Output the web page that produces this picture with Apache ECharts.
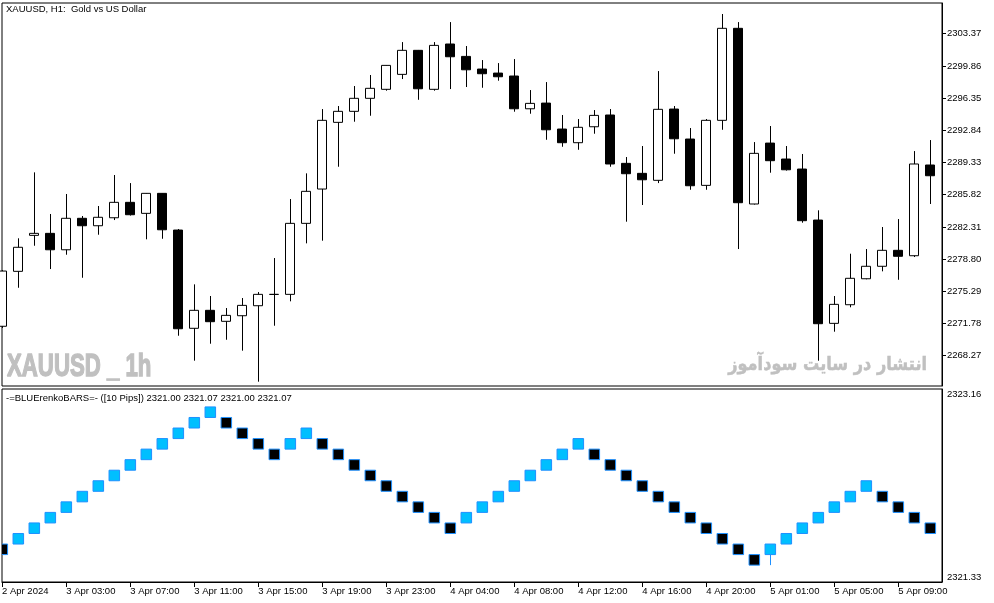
<!DOCTYPE html>
<html>
<head>
<meta charset="utf-8">
<script src="https://cdn.jsdelivr.net/npm/echarts@6/dist/echarts.min.js"></script>
<style>
html,body{margin:0;padding:0;background:#fff;}
#chart{width:994px;height:603px;}
</style>
</head>
<body>
<div id="chart"></div>
<script>
// ---------- DATA ----------
const priceTicks = [2268.27, 2271.78, 2275.29, 2278.80, 2282.31, 2285.82, 2289.33, 2292.84, 2296.35, 2299.86, 2303.37];
const renkoTicks = [2321.33, 2323.16];

const timeTicks = [4, 8, 12, 16, 20, 24, 28, 32, 36, 40, 44, 48, 52, 56];
const timeLabels = ['3 Apr 03:00', '3 Apr 07:00', '3 Apr 11:00', '3 Apr 15:00', '3 Apr 19:00', '3 Apr 23:00',
  '4 Apr 04:00', '4 Apr 08:00', '4 Apr 12:00', '4 Apr 16:00', '4 Apr 20:00', '5 Apr 01:00', '5 Apr 05:00', '5 Apr 09:00'];
const startLabel = '2 Apr 2024';

const candleOpen = [2271.48, 2277.47, 2281.39, 2281.61, 2279.82, 2283.25, 2282.44, 2283.31, 2284.99, 2283.79,
  2285.97, 2281.97, 2271.26, 2273.22, 2272.02, 2272.63, 2273.72, 2274.95, 2274.96, 2282.70,
  2286.44, 2293.71, 2294.91, 2296.33, 2297.31, 2298.94, 2301.56, 2297.31, 2302.25, 2300.90,
  2299.52, 2299.08, 2298.76, 2295.19, 2295.81, 2292.98, 2291.49, 2293.23, 2294.51, 2289.24,
  2288.15, 2287.39, 2295.16, 2291.89, 2286.84, 2293.93, 2303.96, 2284.81, 2291.45, 2289.71,
  2288.62, 2283.06, 2271.80, 2273.83, 2276.66, 2278.02, 2279.76, 2279.17, 2289.06];
const candleClose = [2277.50, 2280.09, 2281.61, 2279.82, 2283.25, 2282.44, 2283.36, 2284.99, 2283.64, 2285.97,
  2282.00, 2271.21, 2273.22, 2271.98, 2272.67, 2273.76, 2274.96, 2274.96, 2282.70, 2286.19,
  2293.93, 2294.91, 2296.33, 2297.42, 2299.92, 2301.56, 2297.37, 2302.10, 2300.86, 2299.44,
  2299.01, 2298.68, 2295.19, 2295.78, 2292.90, 2291.49, 2293.17, 2294.47, 2289.17, 2288.11,
  2287.45, 2295.13, 2291.92, 2286.80, 2293.93, 2303.96, 2284.95, 2290.33, 2289.53, 2288.54,
  2282.99, 2271.76, 2273.87, 2276.71, 2278.02, 2279.76, 2279.11, 2289.17, 2287.89];
const candleLow = [2271.30, 2275.68, 2280.26, 2277.72, 2279.28, 2276.77, 2281.46, 2283.06, 2283.55, 2280.96,
  2281.02, 2270.45, 2267.73, 2269.58, 2270.01, 2268.82, 2265.44, 2271.54, 2274.20, 2280.52,
  2280.81, 2288.87, 2293.78, 2294.43, 2297.16, 2298.43, 2296.17, 2297.16, 2297.34, 2297.56,
  2297.48, 2298.25, 2294.87, 2294.65, 2291.81, 2291.05, 2290.72, 2292.47, 2288.87, 2282.88,
  2284.70, 2287.09, 2290.29, 2286.36, 2286.36, 2292.90, 2279.90, 2284.75, 2288.22, 2288.45,
  2282.77, 2267.73, 2270.89, 2273.55, 2276.60, 2277.47, 2276.55, 2279.03, 2284.81];
const candleHigh = [2277.60, 2281.07, 2288.26, 2283.72, 2285.90, 2283.50, 2284.59, 2287.97, 2287.09, 2286.00,
  2286.00, 2282.08, 2276.05, 2274.78, 2273.47, 2274.56, 2275.21, 2278.92, 2285.35, 2288.15,
  2295.16, 2295.49, 2297.67, 2298.87, 2299.95, 2302.46, 2301.60, 2302.46, 2304.64, 2302.03,
  2300.50, 2300.17, 2300.61, 2297.23, 2298.10, 2294.51, 2294.07, 2295.05, 2295.16, 2289.93,
  2291.13, 2299.30, 2295.49, 2293.09, 2294.07, 2305.52, 2304.64, 2291.56, 2293.31, 2291.13,
  2290.26, 2284.12, 2274.78, 2279.39, 2279.90, 2282.30, 2283.17, 2290.58, 2291.78];

const renkoOpen = [2321.69, 2321.69, 2321.79, 2321.89, 2321.99, 2322.09, 2322.19, 2322.29, 2322.39, 2322.49,
  2322.59, 2322.69, 2322.79, 2322.89, 2322.89, 2322.79, 2322.69, 2322.59, 2322.59, 2322.69,
  2322.69, 2322.59, 2322.49, 2322.39, 2322.29, 2322.19, 2322.09, 2321.99, 2321.89, 2321.89,
  2321.99, 2322.09, 2322.19, 2322.29, 2322.39, 2322.49, 2322.59, 2322.59, 2322.49, 2322.39,
  2322.29, 2322.19, 2322.09, 2321.99, 2321.89, 2321.79, 2321.69, 2321.59, 2321.59, 2321.69,
  2321.79, 2321.89, 2321.99, 2322.09, 2322.19, 2322.19, 2322.09, 2321.99, 2321.89];
const renkoClose = [2321.59, 2321.79, 2321.89, 2321.99, 2322.09, 2322.19, 2322.29, 2322.39, 2322.49, 2322.59,
  2322.69, 2322.79, 2322.89, 2322.99, 2322.79, 2322.69, 2322.59, 2322.49, 2322.69, 2322.79,
  2322.59, 2322.49, 2322.39, 2322.29, 2322.19, 2322.09, 2321.99, 2321.89, 2321.79, 2321.99,
  2322.09, 2322.19, 2322.29, 2322.39, 2322.49, 2322.59, 2322.69, 2322.49, 2322.39, 2322.29,
  2322.19, 2322.09, 2321.99, 2321.89, 2321.79, 2321.69, 2321.59, 2321.49, 2321.69, 2321.79,
  2321.89, 2321.99, 2322.09, 2322.19, 2322.29, 2322.09, 2321.99, 2321.89, 2321.79];
const renkoWickIndex = [48];
const renkoWickLow = [2321.49];

// ---------- CHART ----------
const FONT = 'Liberation Sans';
const X_MIN = -0.02, X_MAX = 58.73;

const candleData = candleOpen.map((o, i) => [i, o, candleClose[i], candleLow[i], candleHigh[i]]);
const renkoData = renkoOpen.map((o, i) => [i, o, renkoClose[i]]);
const wickData = renkoWickIndex.map((i, k) => [i, Math.min(renkoOpen[i], renkoClose[i]), renkoWickLow[k]]);

const chart = echarts.init(document.getElementById('chart'), null, {renderer: 'canvas'});

const option = {
  animation: false,
  backgroundColor: '#fff',
  title: [
    {text: 'XAUUSD, H1:  Gold vs US Dollar', left: 6, top: 4, padding: 0,
     textStyle: {fontFamily: FONT, fontSize: 9.5, fontWeight: 'normal', color: '#000'}},
    {text: '-=BLUErenkoBARS=- ([10 Pips]) 2321.00 2321.07 2321.00 2321.07', left: 6, top: 393, padding: 0,
     textStyle: {fontFamily: FONT, fontSize: 9.5, fontWeight: 'normal', color: '#000'}}
  ],
  grid: [
    {left: 2, right: 52, top: 3, height: 383, show: true, borderColor: '#000', borderWidth: 1,
     backgroundColor: 'transparent', containLabel: false, outerBoundsMode: 'none'},
    {left: 2, right: 52, top: 389, height: 193, show: true, borderColor: '#000', borderWidth: 1,
     backgroundColor: 'transparent', containLabel: false, outerBoundsMode: 'none'}
  ],
  xAxis: [
    {type: 'value', gridIndex: 0, min: X_MIN, max: X_MAX,
     axisLine: {show: false, onZero: false}, axisTick: {show: false}, axisLabel: {show: false}, splitLine: {show: false}},
    {type: 'value', gridIndex: 1, min: X_MIN, max: X_MAX, position: 'bottom',
     axisLine: {show: true, onZero: false, lineStyle: {color: '#000', width: 1}},
     axisTick: {show: true, inside: false, length: 5, lineStyle: {color: '#000'},
                customValues: [X_MIN].concat(timeTicks)},
     axisLabel: {show: true, customValues: [X_MIN].concat(timeTicks), align: 'left', margin: 4,
                 fontFamily: FONT, fontSize: 9.5, color: '#000', hideOverlap: false,
                 formatter: (v) => v < 0 ? startLabel : timeLabels[timeTicks.indexOf(Math.round(v))]},
     splitLine: {show: false}}
  ],
  yAxis: [
    {type: 'value', gridIndex: 0, position: 'right', min: 2264.97, max: 2306.72, scale: true,
     axisLine: {show: true, onZero: false, lineStyle: {color: '#000', width: 1}},
     axisTick: {show: true, inside: false, length: 4, lineStyle: {color: '#000'}, customValues: priceTicks},
     axisLabel: {show: true, customValues: priceTicks, margin: 5, fontFamily: FONT, fontSize: 9.5, color: '#000',
                 formatter: (v) => v.toFixed(2)},
     splitLine: {show: false}},
    {type: 'value', gridIndex: 1, position: 'right', min: renkoTicks[0], max: renkoTicks[1], scale: true,
     axisLine: {show: true, onZero: false, lineStyle: {color: '#000', width: 1}},
     axisTick: {show: false},
     axisLabel: {show: true, customValues: renkoTicks, margin: 5, fontFamily: FONT, fontSize: 9.5, color: '#000',
                 verticalAlignMinLabel: 'bottom', verticalAlignMaxLabel: 'top',
                 formatter: (v) => v.toFixed(2)},
     splitLine: {show: false}}
  ],
  series: [
    {type: 'candlestick', xAxisIndex: 0, yAxisIndex: 0, data: candleData,
     encode: {x: 0, y: [1, 2, 3, 4]}, barWidth: 9.5, clip: true,
     itemStyle: {color: '#fff', color0: '#000', borderColor: '#000', borderColor0: '#000',
                 borderColorDoji: '#000', borderWidth: 1},
     emphasis: {disabled: true}},
    {type: 'custom', xAxisIndex: 1, yAxisIndex: 1, data: wickData, clip: true,
     encode: {x: 0, y: [1, 2]},
     renderItem: (params, api) => {
       const p1 = api.coord([api.value(0), api.value(1)]);
       const p2 = api.coord([api.value(0), api.value(2)]);
       const x = Math.round(p1[0]) + 0.5;
       return {type: 'line', shape: {x1: x, y1: p1[1], x2: x, y2: p2[1]},
               style: {stroke: '#1E90FF', lineWidth: 1}};
     }},
    {type: 'custom', xAxisIndex: 1, yAxisIndex: 1, data: renkoData, clip: true,
     encode: {x: 0, y: [1, 2]},
     renderItem: (params, api) => {
       const i = api.value(0), o = api.value(1), c = api.value(2);
       const top = api.coord([i, Math.max(o, c)]);
       const bot = api.coord([i, Math.min(o, c)]);
       const h = bot[1] - top[1];
       const w = h;
       return {type: 'rect',
               shape: {x: top[0] - w / 2, y: top[1], width: w, height: h},
               style: {fill: c > o ? '#00BFFF' : '#000000', stroke: '#1E90FF', lineWidth: 1}};
     }}
  ],
  graphic: [
    {type: 'text', x: 7, y: 367, scaleX: 0.705, silent: true, z: 0,
     style: {text: 'XAUUSD _ 1h', font: 'bold 31.5px "Liberation Sans"', fill: '#C0C0C0',
             stroke: '#C0C0C0', lineWidth: 1.4,
             verticalAlign: 'middle', align: 'left'}},
    {type: 'text', x: 927, y: 365, scaleX: 0.85, silent: true, z: 0,
     style: {text: 'انتشار در سایت سودآموز', font: 'bold 19px "DejaVu Sans"', fill: '#C0C0C0',
             stroke: '#C0C0C0', lineWidth: 0.5,
             verticalAlign: 'middle', align: 'right'}}
  ]
};

chart.setOption(option);
</script>
</body>
</html>
